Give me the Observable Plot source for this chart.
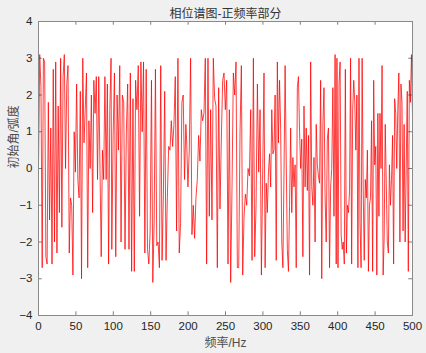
<!DOCTYPE html>
<html>
<head>
<meta charset="utf-8">
<script src="https://cdn.jsdelivr.net/npm/d3@7"></script>
<script src="https://cdn.jsdelivr.net/npm/@observablehq/plot@0.6"></script>
<style>
  html, body { margin: 0; padding: 0; background: #f0f0f0; }
</style>
</head>
<body>
<div id="chart"></div>
<script>
// Text
const chartTitle = "相位谱图-正频率部分";
const xLabel = "频率/Hz";
const yLabel = "初始角/弧度";

// Tick values
const xTicks = [0, 50, 100, 150, 200, 250, 300, 350, 400, 450, 500];
const yTicks = [-4, -3, -2, -1, 0, 1, 2, 3, 4];

// Frequency span (Hz) of each segment of read-off phase values
const segStart = [0, 98, 198, 300, 399];
const segEnd = [97, 197, 298, 398, 500];

// Phase values (rad)
const phaseA = [0.0, 3.1, 2.2, -2.7, 3.0, 2.9, -2.4, -2.6, 1.8, -1.4, 1.1, -2.6, 2.7, -2.0, 2.9, -2.3, 1.7, -1.2, 3.0, -1.6,
  2.5, 3.1, 0.0, 2.3, 2.8, -2.3, -0.8, -1.0, -2.9, 1.0, -0.1, 2.3, -0.3, -0.8, 2.1, -3.0, 3.0, 0.7, 1.6, 2.6,
  -2.7, 1.3, 0.0, 2.0, -1.2, 2.4, 1.5, 2.5, -0.3, 2.5, 0.0, -2.4, 0.5, -0.3, 2.5, -0.3, 2.3, -2.6, 1.6, 3.0];
const phaseB = [-2.2, 0.9, 2.6, -2.4, 2.0, 0.5, 2.8, -2.0, 2.0, 1.8, -2.2, 1.0, 2.3, -2.2, 2.6, -2.8, 1.9, -2.8, 2.4, 1.6,
  2.8, -1.3, 2.9, 1.0, 2.9, -2.3, 2.7, -2.2, -2.6, -1.7, 2.4, -3.1, -1.5, 2.7, -2.1, -2.0, -2.7, 2.8, -2.5, -0.7,
  2.1, -2.5, -0.8, 0.6, 0.5, 1.3, 0.6, 1.2, 2.5, -1.7, 3.0, -2.3, -1.5, 1.8, 2.0, -0.3, 1.2];
const phaseC = [0.8, -0.5, 0.5, 3.0, -1.8, -1.0, -1.9, -0.8, -0.3, 0.9, 0.2, 1.6, 1.3, 1.5, 3.0, -2.6, 3.0, -1.3, 1.6, -1.4,
  3.0, 1.9, 1.7, -2.7, 2.2, -1.1, 0.8, 2.4, 2.6, 1.6, 2.4, -2.6, 1.6, -3.1, -0.5, 2.6, 2.0, 2.9, -2.7, -2.7,
  1.0, 2.8, -2.9, -1.3, -0.7, -1.0, 0.0, -0.2, 1.6, -2.5, 3.0, -2.4, -1.0, 2.3, -0.1, 1.6, -2.9];
const phaseD = [0.3, 2.6, -2.7, -0.4, -1.2, -0.1, 0.4, -0.5, 1.6, 0.4, 0.5, 2.0, -2.5, 2.9, 0.7, 2.4, 1.1, -2.0, -2.7, -0.1,
  2.8, 0.2, -2.2, -2.8, -1.0, 1.1, -1.2, 0.3, -0.5, 0.1, -2.7, 2.2, 2.5, 1.0, 0.0, 0.8, -2.4, 1.7, -0.5, 1.1,
  -0.6, 0.9, -2.9, 2.9, -0.5, -1.0, 0.3, -2.0, 1.2, 0.1, -0.2, -0.4, 2.4, -3.0, 1.2, 2.2, -0.8, -2.0, 0.8, 1.1,
  -2.7, -0.5, 0.0, 2.2, -1.3, 3.1, -2.6];
const phaseE = [3.0, -2.7, 2.3, 2.9, -1.8, -2.2, -2.0, -2.6, 2.7, -2.3, -1.0, -1.2, -0.6, 3.0, -2.6, 1.6, 2.4, 1.8, 0.5, 2.0,
  -2.7, 3.0, -1.5, -2.7, 3.0, -0.5, -2.5, -0.3, -0.8, 0.5, -2.8, -1.0, -0.8, 1.3, -2.8, 2.4, 0.1, 0.6, -2.9, 1.5,
  -1.3, 1.5, 0.0, 2.8, -2.9, -1.9, 1.2, -0.4, -2.0, -2.3, 0.1, -1.0, -0.3, 0.9, -2.6, 1.9, 1.5, 0.0, 1.6, 2.6,
  -2.0, 2.3, 1.8, -1.7, 1.2, -2.0, 0.0, 2.1, -2.8, 2.4, 1.8, 3.1, 1.4];

const segments = [phaseA, phaseB, phaseC, phaseD, phaseE];
const data = [];
segments.forEach((vals, s) => {
  const f0 = segStart[s], f1 = segEnd[s];
  vals.forEach((v, i) => {
    data.push({f: f0 + (f1 - f0) * i / (vals.length - 1), phase: v});
  });
});

const chart = Plot.plot({
  width: 426,
  height: 353,
  marginLeft: 38,
  marginRight: 14,
  marginTop: 21,
  marginBottom: 38,
  style: {background: "#f0f0f0", fontFamily: "'Liberation Sans', Arial, 'Noto Sans CJK SC', sans-serif", fontSize: "11px", color: "#262626"},
  x: {domain: [0, 500]},
  y: {domain: [-4, 4]},
  marks: [
    Plot.frame({fill: "white", stroke: null}),
    Plot.line(data, {x: "f", y: "phase", stroke: "#ff0000", strokeWidth: 0.75}),
    Plot.ruleX(xTicks, {y1: -4, y2: -3.9, stroke: "#262626", strokeWidth: 0.6}),
    Plot.ruleX(xTicks, {y1: 4, y2: 3.9, stroke: "#262626", strokeWidth: 0.6}),
    Plot.ruleY(yTicks, {x1: 0, x2: 5, stroke: "#262626", strokeWidth: 0.6}),
    Plot.ruleY(yTicks, {x1: 500, x2: 495, stroke: "#262626", strokeWidth: 0.6}),
    Plot.frame({stroke: "#8a8a8a", strokeWidth: 1}),
    Plot.axisX({ticks: xTicks, tickSize: 0, tickPadding: 6, fontSize: 11.5, label: null, fill: "#262626"}),
    Plot.axisY({ticks: yTicks, tickSize: 0, tickPadding: 6, fontSize: 11.5, label: null, fill: "#262626"}),
    Plot.text([xLabel], {frameAnchor: "bottom", dy: 31, fontSize: 12, fill: "#4d4d4d"}),
    Plot.text([yLabel], {frameAnchor: "left", dx: -24, rotate: -90, fontSize: 12, fill: "#4d4d4d"}),
    Plot.text([chartTitle], {frameAnchor: "top", dy: -12, fontSize: 12, fill: "#333333"})
  ]
});
document.getElementById("chart").appendChild(chart);
</script>
</body>
</html>
